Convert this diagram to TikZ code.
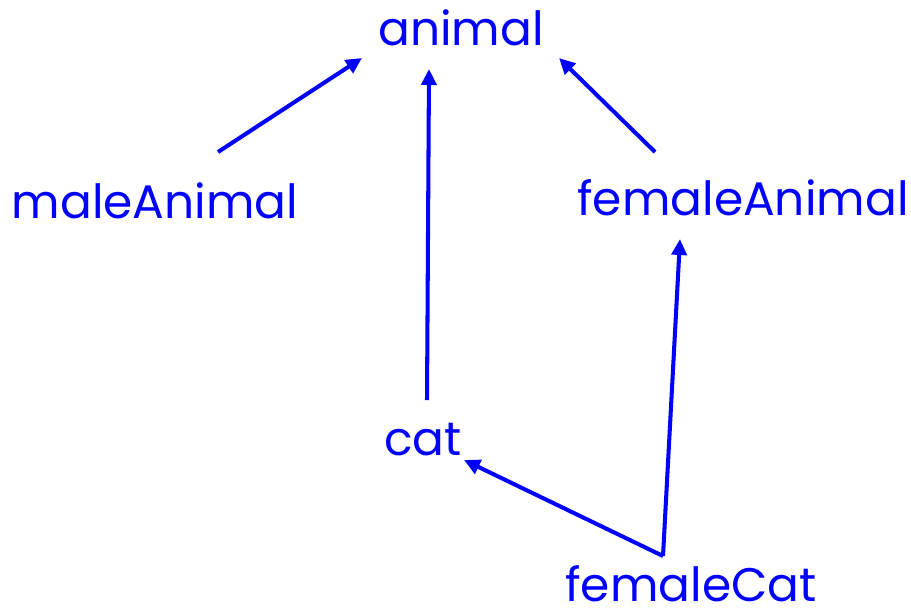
\documentclass[tikz,border=0pt]{standalone}
\usepackage{fontspec}
\setmainfont{Poppins}
\usetikzlibrary{positioning,arrows.meta}

\begin{document}
\begin{tikzpicture}[x=0.02cm, y=0.02cm]
      \tikzstyle{main}=[text=blue, inner sep=0pt, anchor=base, text depth=0pt, font=\fontsize{26.8}{30}\selectfont]
      \tikzstyle{connect}=[-{Triangle[length=0.32cm, width=0.3cm]}, line width=2.3pt, draw=blue]

      \useasboundingbox (0,0) rectangle (911,-613);

      \node[main] (animal) at (461,-45) {animal};
      \node[main] (maleAnimal) at (155,-218) {maleAnimal};
      \node[main] (femaleAnimal) at (743,-215) {femaleAnimal};
      \node[main] (cat) at (423,-455) {cat};
      \node[main] (femaleCat) at (691,-601) {femaleCat};

      \path ([shift={(63,66)}]maleAnimal.base) edge [connect] ([shift={(-99,-13)}]animal.base)
            ([shift={(4,55)}]cat.base) edge [connect] ([shift={(-32,-24)}]animal.base)
            ([shift={(-88,63)}]femaleAnimal.base) edge [connect] ([shift={(98,-13)}]animal.base);

      \path ([shift={(-28,45)}]femaleCat.base) edge [connect] ([shift={(41,-5)}]cat.base)
            ([shift={(-28,45)}]femaleCat.base) edge [connect] ([shift={(-63,-24)}]femaleAnimal.base);
    \end{tikzpicture}
\end{document}
